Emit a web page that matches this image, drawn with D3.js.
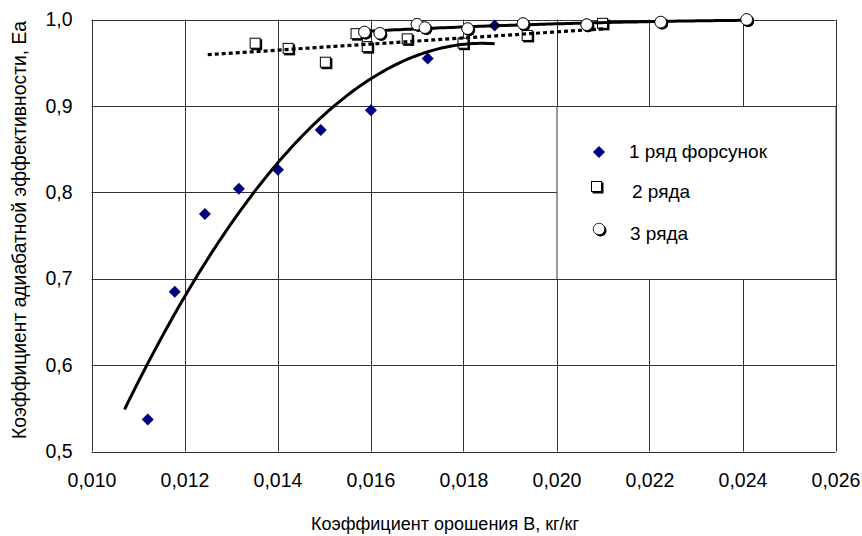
<!DOCTYPE html>
<html>
<head>
<meta charset="utf-8">
<script src="https://cdn.jsdelivr.net/npm/d3@7"></script>
<style>
body { margin: 0; background: #fff; }
text { font-family: "Liberation Sans", Arial, sans-serif; fill: #000; }
</style>
</head>
<body>
<svg width="862" height="536"></svg>
<script>
/**Data**/
// 1 ряд форсунок
var row1B = [0.01121, 0.01179, 0.01244, 0.01317, 0.01401, 0.01493, 0.01601, 0.01723, 0.01867];
var row1E = [0.537, 0.685, 0.775, 0.804, 0.826, 0.872, 0.895, 0.955, 0.993];
// 2 ряда
var row2B = [0.01353, 0.01424, 0.01504, 0.01594, 0.01570, 0.01680, 0.01800, 0.01938, 0.02100];
var row2E = [0.972, 0.966, 0.950, 0.968, 0.983, 0.977, 0.972, 0.981, 0.995];
// 3 ряда
var row3B = [0.01587, 0.01620, 0.01700, 0.01717, 0.01809, 0.01928, 0.02065, 0.02224, 0.02409];
var row3E = [0.9855, 0.984, 0.9945, 0.9906, 0.9895, 0.9953, 0.994, 0.997, 1.000];

var xTicks = [0.010, 0.012, 0.014, 0.016, 0.018, 0.020, 0.022, 0.024, 0.026];
var yTicks = [0.5, 0.6, 0.7, 0.8, 0.9, 1.0];
var legendLabels = ["1 ряд форсунок", "2 ряда", "3 ряда"];

/**Initialization**/
var svg = d3.select("svg");
var x = d3.scaleLinear().domain([0.010, 0.026]).range([91.5, 835.5]);
var y = d3.scaleLinear().domain([0.5, 1.0]).range([451.5, 19.5]);
var comma = function(f) { return function(v) { return d3.format(f)(v).replace(".", ","); }; };

//grid
var grid = svg.append("g").attr("stroke", "#333").attr("stroke-width", 1);
grid.selectAll("line.v").data(xTicks).enter().append("line")
	.attr("x1", function(d) { return Math.round(x(d)) + 0.5; })
	.attr("x2", function(d) { return Math.round(x(d)) + 0.5; })
	.attr("y1", y(1.0)).attr("y2", y(0.5));
grid.selectAll("line.h").data(yTicks).enter().append("line")
	.attr("y1", function(d) { return Math.round(y(d)) + 0.5; })
	.attr("y2", function(d) { return Math.round(y(d)) + 0.5; })
	.attr("x1", x(0.010)).attr("x2", x(0.026));

//axes labels
var xAxis = svg.append("g").attr("transform", "translate(0," + y(0.5) + ")")
	.call(d3.axisBottom(x).tickValues(xTicks).tickFormat(comma(".3f")).tickSize(0).tickPadding(22));
var yAxis = svg.append("g").attr("transform", "translate(" + x(0.010) + ",0)")
	.call(d3.axisLeft(y).tickValues(yTicks).tickFormat(comma(".1f")).tickSize(0).tickPadding(19));
svg.selectAll(".domain").remove();
svg.selectAll(".tick text").attr("font-size", 19.5).attr("font-family", "Liberation Sans, Arial, sans-serif").attr("fill", "#000");

svg.append("text").attr("x", 445).attr("y", 530).attr("text-anchor", "middle")
	.attr("font-size", 18).text("Коэффициент орошения B, кг/кг");
svg.append("text").attr("transform", "translate(26,230) rotate(-90)").attr("text-anchor", "middle")
	.attr("font-size", 19.3).text("Коэффициент адиабатной эффективности, Еа");

//least squares polynomial fit (B in units of 0.001)
function polyFit(xs, ys, order) {
	var n = order + 1, A = [], b = [];
	for (var i = 0; i < n; i++) { A.push(new Array(n).fill(0)); b.push(0); }
	xs.forEach(function(xv, k) {
		var t = xv * 1000;
		for (var i = 0; i < n; i++) {
			b[i] += ys[k] * Math.pow(t, i);
			for (var j = 0; j < n; j++) A[i][j] += Math.pow(t, i + j);
		}
	});
	for (var c = 0; c < n; c++) {
		for (var r = c + 1; r < n; r++) {
			var f = A[r][c] / A[c][c];
			for (var j = c; j < n; j++) A[r][j] -= f * A[c][j];
			b[r] -= f * b[c];
		}
	}
	var coef = new Array(n).fill(0);
	for (var r = n - 1; r >= 0; r--) {
		var s = b[r];
		for (var j = r + 1; j < n; j++) s -= A[r][j] * coef[j];
		coef[r] = s / A[r][r];
	}
	return function(xv) {
		var t = xv * 1000, s = 0;
		for (var i = 0; i < n; i++) s += coef[i] * Math.pow(t, i);
		return s;
	};
}
function trendPoints(fn, x0, x1) {
	return d3.range(0, 101).map(function(i) { var xv = x0 + (x1 - x0) * i / 100; return [xv, fn(xv)]; });
}
var line = d3.line().x(function(d) { return x(d[0]); }).y(function(d) { return y(d[1]); }).curve(d3.curveLinear);

var fit1 = polyFit(row1B, row1E, 2);
var fit2 = polyFit(row2B, row2E, 1);
var fit3 = polyFit(row3B, row3E, 2);

//legend box (covers grid)
svg.append("rect").attr("x", x(0.020) + 0.5).attr("y", Math.round(y(0.9)) + 0.5)
	.attr("width", x(0.026) - x(0.020)).attr("height", Math.round(y(0.7)) - Math.round(y(0.9)))
	.attr("fill", "#fff").attr("stroke", "#333");

//markers
function diamond(g, cx, cy) {
	g.append("path").attr("d", "M" + cx + "," + (cy - 6) + "L" + (cx + 6) + "," + cy + "L" + cx + "," + (cy + 6) + "L" + (cx - 6) + "," + cy + "Z")
		.attr("fill", "#000080");
}
function square(g, cx, cy) {
	g.append("rect").attr("x", cx - 4.5).attr("y", cy - 4.5).attr("width", 11).attr("height", 11).attr("fill", "#000");
	g.append("rect").attr("x", cx - 5.5).attr("y", cy - 5.5).attr("width", 10).attr("height", 10)
		.attr("fill", "#fff").attr("stroke", "#000").attr("stroke-width", 1);
}
function circle(g, cx, cy) {
	g.append("circle").attr("cx", cx + 1.5).attr("cy", cy + 1.5).attr("r", 6).attr("fill", "#000");
	g.append("circle").attr("cx", cx).attr("cy", cy).attr("r", 5.8)
		.attr("fill", "#fff").attr("stroke", "#000").attr("stroke-width", 0.8);
}

var marks = svg.append("g");
row1B.forEach(function(b, i) { diamond(marks, x(b), y(row1E[i])); });
row2B.forEach(function(b, i) { square(marks, x(b), y(row2E[i])); });

//trend lines
svg.append("path").datum(trendPoints(fit1, 0.01071, d3.max(row1B)))
	.attr("d", line).attr("fill", "none").attr("stroke", "#000").attr("stroke-width", 3);
svg.append("path").datum(trendPoints(fit2, 0.0125, d3.max(row2B)))
	.attr("d", line).attr("fill", "none").attr("stroke", "#000").attr("stroke-width", 3.2).attr("stroke-dasharray", "4,3");

row3B.forEach(function(b, i) { circle(marks.append("g"), x(b), y(row3E[i])); });
svg.append("path").datum(trendPoints(fit3, d3.min(row3B), d3.max(row3B)))
	.attr("d", line).attr("fill", "none").attr("stroke", "#000").attr("stroke-width", 3);
svg.append("g").call(function(g) { row3B.forEach(function(b, i) { circle(g, x(b), y(row3E[i])); }); });

//legend
var leg = svg.append("g");
diamond(leg, 599, 152);
square(leg, 597, 187);
circle(leg, 599, 229);
var legY = [158, 198, 240];
var legX = [629, 632, 630];
legendLabels.forEach(function(t, i) {
	leg.append("text").attr("x", legX[i]).attr("y", legY[i]).attr("font-size", 19).text(t);
});
</script>
</body>
</html>
